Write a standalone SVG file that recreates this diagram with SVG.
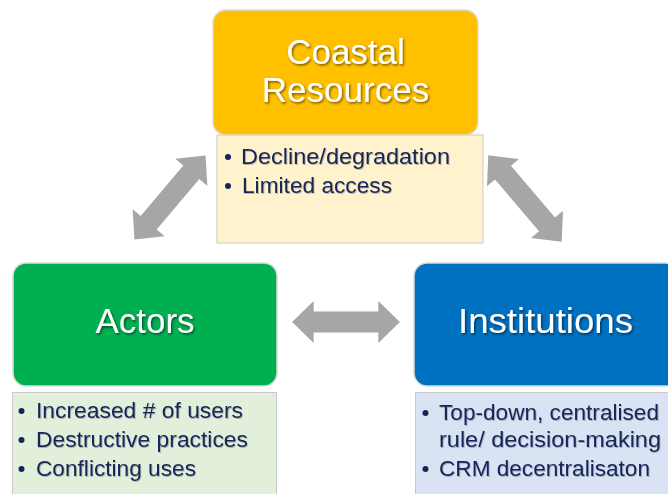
<svg xmlns="http://www.w3.org/2000/svg" width="668" height="494" viewBox="0 0 668 494">
  <defs>
    <style>
      .head { fill: #ffffff; font-family: "Liberation Sans", Arial, sans-serif; font-size: 35px; text-anchor: middle; filter: url(#txtShadow); }
      .item { fill: #15255a; font-family: "Liberation Sans", Arial, sans-serif; font-size: 21.5px; filter: url(#itemShadow); }
      .dot { fill: #15255a; }
      .card { stroke: #dcdcdc; stroke-width: 1.5; }
      .notes { stroke: #c9c9c9; stroke-width: 1; }
      .link { fill: #a6a6a6; }
    </style>
    <filter id="txtShadow" x="-10%" y="-20%" width="130%" height="150%">
      <feDropShadow dx="1.2" dy="1.5" stdDeviation="0.9" flood-color="#000000" flood-opacity="0.55"/>
    </filter>
    <filter id="itemShadow" x="-5%" y="-20%" width="115%" height="150%">
      <feDropShadow dx="0.8" dy="1" stdDeviation="0.7" flood-color="#000000" flood-opacity="0.25"/>
    </filter>
    <!-- double-headed block arrow, centred on the origin, pointing along x -->
    <path id="dblArrow" d="M-55,0 L-33,-21 L-33,-10.5 L33,-10.5 L33,-21 L55,0 L33,21 L33,10.5 L-33,10.5 L-33,21 Z"/>
  </defs>

  <rect width="668" height="494" fill="#ffffff"/>

  <!-- connectors -->
  <g id="connectors" class="link">
    <use href="#dblArrow" transform="translate(170,197.5) rotate(-49.7)"/>
    <use href="#dblArrow" transform="translate(525,198.5) rotate(49.6) scale(1.03,1)"/>
    <use href="#dblArrow" transform="translate(346,322) scale(0.98,1)"/>
  </g>

  <!-- Coastal Resources -->
  <g id="coastal-resources">
    <rect class="notes" x="217" y="135" width="266" height="108" fill="#fff2cc"/>
    <rect class="card" x="213" y="10" width="265" height="125" rx="13" fill="#ffc000"/>
    <text class="head" x="345.5" y="64">Coastal</text>
    <text class="head" x="345.5" y="102">Resources</text>
    <circle class="dot" cx="228" cy="157" r="3"/>
    <text class="item" x="241" y="164" textLength="209" lengthAdjust="spacingAndGlyphs">Decline/degradation</text>
    <circle class="dot" cx="228" cy="186" r="3"/>
    <text class="item" x="242" y="193" textLength="150" lengthAdjust="spacingAndGlyphs">Limited access</text>
  </g>

  <!-- Actors -->
  <g id="actors">
    <rect class="notes" x="12.5" y="392.5" width="264" height="110" fill="#e2efda"/>
    <rect class="card" x="13" y="263" width="264" height="123" rx="13" fill="#00b050"/>
    <text class="head" x="145" y="333">Actors</text>
    <circle class="dot" cx="21.5" cy="411" r="3"/>
    <text class="item" x="36" y="418" textLength="207" lengthAdjust="spacingAndGlyphs">Increased # of users</text>
    <circle class="dot" cx="21.5" cy="440" r="3"/>
    <text class="item" x="36" y="447" textLength="212" lengthAdjust="spacingAndGlyphs">Destructive practices</text>
    <circle class="dot" cx="21.5" cy="469" r="3"/>
    <text class="item" x="36" y="476" textLength="160" lengthAdjust="spacingAndGlyphs">Conflicting uses</text>
  </g>

  <!-- Institutions -->
  <g id="institutions">
    <rect class="notes" x="415.5" y="392.5" width="264" height="110" fill="#dae3f3"/>
    <rect class="card" x="414" y="263" width="264" height="123" rx="13" fill="#0070c0"/>
    <text class="head" x="545.5" y="333" textLength="175" lengthAdjust="spacingAndGlyphs">Institutions</text>
    <circle class="dot" cx="425.5" cy="413" r="3"/>
    <text class="item" x="439" y="420" textLength="220" lengthAdjust="spacingAndGlyphs">Top-down, centralised</text>
    <text class="item" x="439" y="447" textLength="222" lengthAdjust="spacingAndGlyphs">rule/ decision-making</text>
    <circle class="dot" cx="425.5" cy="469" r="3"/>
    <text class="item" x="439" y="476" textLength="211" lengthAdjust="spacingAndGlyphs">CRM decentralisaton</text>
  </g>
</svg>
